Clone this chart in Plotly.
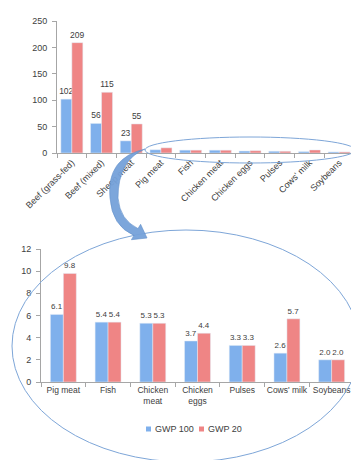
import plotly.graph_objects as go

W, H = 359, 460

top_categories = ["Beef (grass-fed)", "Beef (mixed)", "Sheep meat", "Pig meat", "Fish",
                  "Chicken meat", "Chicken eggs", "Pulses", "Cows' milk", "Soybeans"]
top_gwp100 = [102, 56, 23, 6.1, 5.4, 5.3, 3.7, 3.3, 2.6, 2.0]
top_gwp20 = [209, 115, 55, 9.8, 5.4, 5.3, 4.4, 3.3, 5.7, 2.0]
top_labelled = 3  # only the first three groups carry value labels

bot_categories = ["Pig meat", "Fish", "Chicken<br>meat", "Chicken<br>eggs", "Pulses", "Cows' milk", "Soybeans"]
bot_gwp100 = [6.1, 5.4, 5.3, 3.7, 3.3, 2.6, 2.0]
bot_gwp20 = [9.8, 5.4, 5.3, 4.4, 3.3, 5.7, 2.0]

series_names = ["GWP 100", "GWP 20"]

BLUE = "#7fb0ec"
RED = "#ef8585"
FONT = "Liberation Sans"
TXT = "#404040"
AX = "#a6a6a6"


def px(x):
    return x / W


def py(y):
    return 1 - y / H


fig = go.Figure()

top_txt100 = [f"{v:g}" if i < top_labelled else "" for i, v in enumerate(top_gwp100)]
top_txt20 = [f"{v:g}" if i < top_labelled else "" for i, v in enumerate(top_gwp20)]
tw = 0.37
fig.add_bar(x=top_categories, y=top_gwp100, xaxis="x", yaxis="y", marker_color=BLUE,
            width=tw, offset=-tw, text=top_txt100, textposition="outside", constraintext="none",
            textfont=dict(size=8.5, color=TXT), cliponaxis=False, showlegend=False, name=series_names[0])
fig.add_bar(x=top_categories, y=top_gwp20, xaxis="x", yaxis="y", marker_color=RED,
            width=tw, offset=0, text=top_txt20, textposition="outside", constraintext="none",
            textfont=dict(size=8.5, color=TXT), cliponaxis=False, showlegend=False, name=series_names[1])

bw = 0.29
fig.add_bar(x=bot_categories, y=bot_gwp100, xaxis="x2", yaxis="y2", marker_color=BLUE,
            width=bw, offset=-bw, text=[f"{v:.1f}" for v in bot_gwp100], textposition="outside",
            constraintext="none", textfont=dict(size=8, color=TXT), cliponaxis=False,
            showlegend=False, name=series_names[0])
fig.add_bar(x=bot_categories, y=bot_gwp20, xaxis="x2", yaxis="y2", marker_color=RED,
            width=bw, offset=0, text=[f"{v:.1f}" for v in bot_gwp20], textposition="outside",
            constraintext="none", textfont=dict(size=8, color=TXT), cliponaxis=False,
            showlegend=False, name=series_names[1])

axis_common = dict(showline=True, linecolor=AX, linewidth=1, ticks="outside", ticklen=4,
                   tickcolor=AX, showgrid=False, zeroline=False, automargin=False,
                   tickfont=dict(family=FONT, size=9, color=TXT))

fig.update_layout(
    width=W, height=H,
    margin=dict(l=0, r=0, t=0, b=0, autoexpand=False),
    paper_bgcolor="white", plot_bgcolor="white",
    barmode="overlay",
    showlegend=False,
    font=dict(family=FONT, color=TXT),
    xaxis=dict(domain=[px(49), px(346)], anchor="y", tickangle=-45, tickson="boundaries", **axis_common),
    yaxis=dict(domain=[py(145), py(13)], anchor="x", range=[0, 250], dtick=50,
               ticklabelstandoff=3, **axis_common),
    xaxis2=dict(domain=[px(33), px(346)], anchor="y2", tickangle=0, tickson="boundaries", **axis_common),
    yaxis2=dict(domain=[py(374), py(241)], anchor="x2", range=[0, 12], dtick=2,
                ticklabelstandoff=3, **axis_common),
)
fig.update_layout(xaxis2_tickfont_size=8.5)

# compact legend (Excel style): small squares + labels
legend_items = [(series_names[0], BLUE, 138), (series_names[1], RED, 191)]
for name, col, x in legend_items:
    fig.add_shape(type="rect", xref="paper", yref="paper",
                  x0=px(x), x1=px(x + 5), y0=py(423.5), y1=py(418.5),
                  fillcolor=col, line=dict(width=0))
    fig.add_annotation(xref="paper", yref="paper", x=px(x + 7), y=py(421), text=name,
                       showarrow=False, xanchor="left", yanchor="middle",
                       font=dict(family=FONT, size=9, color=TXT))

ELL = "#7ea6d8"
fig.add_shape(type="circle", xref="paper", yref="paper",
              x0=px(137), x1=px(347), y0=py(155), y1=py(129),
              line=dict(color=ELL, width=1))
fig.add_shape(type="circle", xref="paper", yref="paper",
              x0=px(4), x1=px(352), y0=py(454), y1=py(222),
              line=dict(color=ELL, width=1))


# curved arrow (decoration)
def P(x, y):
    return f"{px(x):.5f},{py(y):.5f}"


path = (f"M {P(137,141)} Q {P(98,150)} {P(102,190)} Q {P(104,218)} {P(126,227.4)} "
        f"L {P(123.4,231.7)} L {P(139,230)} L {P(132.6,216.3)} L {P(130,220.6)} "
        f"Q {P(112,212)} {P(110,190)} Q {P(110,152)} {P(137,141)} Z")
fig.add_shape(type="path", xref="paper", yref="paper", path=path,
              fillcolor="#76a2da", line=dict(color="#5b8cc8", width=0.6), opacity=0.95)

fig.write_html("out.html")
